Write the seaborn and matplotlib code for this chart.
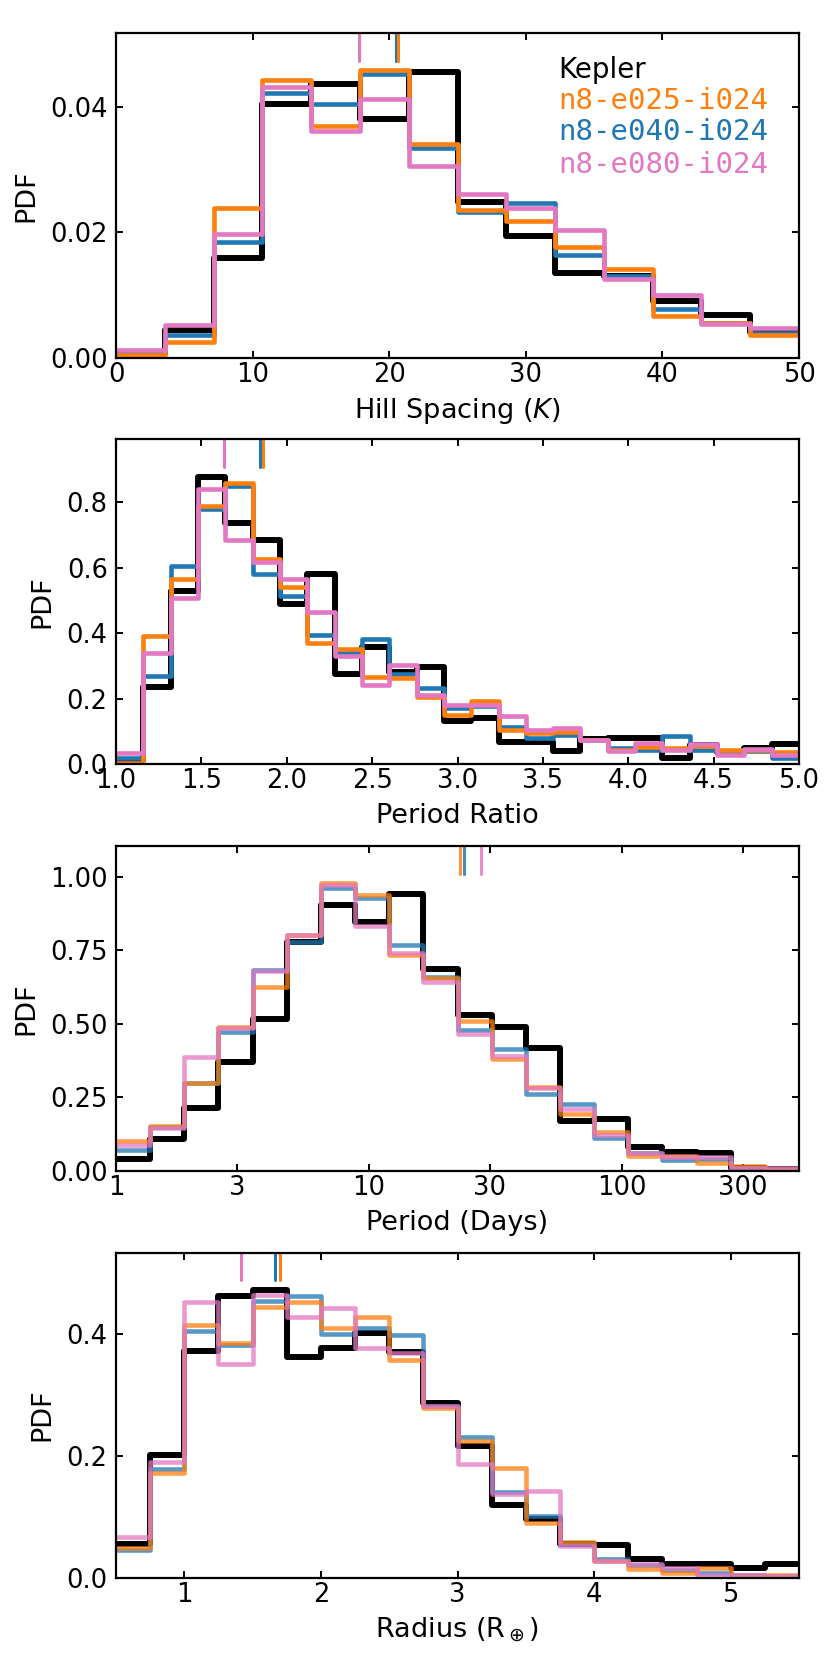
import numpy as np
import pandas as pd
import matplotlib
matplotlib.use("Agg")
import matplotlib.pyplot as plt
from matplotlib.ticker import FormatStrFormatter, NullLocator
import seaborn as sns

# ---- data (PDF per bin) ----
models = ["Kepler", "n8-e040-i024", "n8-e025-i024", "n8-e080-i024"]
model_colors = ["black", "#1f77b4", "#ff7f0e", "#e377c2"]
legend_order = ["Kepler", "n8-e025-i024", "n8-e040-i024", "n8-e080-i024"]

# Hill spacing, 14 bins on [0, 50]
hill_edges = np.linspace(0, 50, 15)
kepler_hill = [0.0008, 0.0044, 0.0159, 0.0404, 0.0436, 0.0381, 0.0455, 0.0249, 0.0194, 0.0135, 0.0131, 0.0091, 0.0068, 0.0042]
e025_hill = [0.0004, 0.0025, 0.0238, 0.0442, 0.0369, 0.0458, 0.0340, 0.0236, 0.0218, 0.0176, 0.0141, 0.0066, 0.0055, 0.0037]
e040_hill = [0.0008, 0.0037, 0.0185, 0.0422, 0.0405, 0.0452, 0.0335, 0.0233, 0.0247, 0.0164, 0.0130, 0.0078, 0.0055, 0.0040]
e080_hill = [0.0012, 0.0052, 0.0197, 0.0432, 0.0362, 0.0413, 0.0306, 0.0261, 0.0238, 0.0203, 0.0125, 0.0101, 0.0054, 0.0048]

# Period ratio, 25 bins on [1, 5]
pr_edges = np.linspace(1, 5, 26)
kepler_pr = [0.013, 0.236, 0.529, 0.878, 0.735, 0.684, 0.488, 0.582, 0.276, 0.358, 0.280, 0.297, 0.131,
             0.141, 0.069, 0.069, 0.039, 0.077, 0.080, 0.080, 0.020, 0.059, 0.036, 0.051, 0.061]
e025_pr = [0.004, 0.391, 0.564, 0.789, 0.858, 0.626, 0.541, 0.370, 0.352, 0.265, 0.263, 0.205, 0.151,
           0.192, 0.105, 0.095, 0.097, 0.075, 0.042, 0.052, 0.049, 0.055, 0.044, 0.042, 0.036]
e040_pr = [0.020, 0.268, 0.605, 0.779, 0.848, 0.582, 0.513, 0.394, 0.340, 0.381, 0.276, 0.233, 0.173,
           0.177, 0.115, 0.080, 0.090, 0.075, 0.049, 0.042, 0.085, 0.042, 0.036, 0.039, 0.020]
e080_pr = [0.034, 0.340, 0.508, 0.840, 0.685, 0.617, 0.564, 0.466, 0.330, 0.243, 0.304, 0.212, 0.182,
           0.182, 0.146, 0.105, 0.110, 0.074, 0.039, 0.064, 0.044, 0.061, 0.029, 0.046, 0.029]

# Period (days), 20 log bins on [1, 500]
per_log_edges = np.linspace(0, np.log10(500), 21)
kepler_per = [0.041, 0.108, 0.214, 0.369, 0.517, 0.780, 0.906, 0.846, 0.942, 0.687,
              0.531, 0.489, 0.418, 0.171, 0.176, 0.080, 0.066, 0.060, 0.009, 0.007]
e025_per = [0.101, 0.154, 0.300, 0.491, 0.624, 0.804, 0.978, 0.940, 0.736, 0.656,
            0.510, 0.380, 0.287, 0.193, 0.134, 0.051, 0.050, 0.026, 0.017, 0.006]
e040_per = [0.072, 0.150, 0.300, 0.474, 0.685, 0.778, 0.963, 0.929, 0.770, 0.660,
            0.480, 0.414, 0.262, 0.227, 0.111, 0.060, 0.038, 0.040, 0.010, 0.005]
e080_per = [0.090, 0.147, 0.387, 0.485, 0.680, 0.804, 0.971, 0.834, 0.741, 0.641,
            0.466, 0.392, 0.282, 0.211, 0.123, 0.060, 0.049, 0.047, 0.011, 0.009]

# Radius, 20 bins on [0.5, 5.5]
rad_edges = np.linspace(0.5, 5.5, 21)
kepler_rad = [0.055, 0.201, 0.373, 0.463, 0.473, 0.363, 0.378, 0.402, 0.371, 0.287,
              0.216, 0.120, 0.096, 0.056, 0.053, 0.030, 0.022, 0.022, 0.016, 0.023]
e025_rad = [0.048, 0.172, 0.415, 0.385, 0.445, 0.454, 0.410, 0.429, 0.358, 0.279,
            0.224, 0.180, 0.090, 0.059, 0.028, 0.014, 0.008, 0.015, 0.003, 0.005]
e040_rad = [0.045, 0.178, 0.405, 0.382, 0.455, 0.463, 0.400, 0.410, 0.399, 0.283,
            0.232, 0.140, 0.101, 0.056, 0.030, 0.020, 0.012, 0.008, 0.004, 0.003]
e080_rad = [0.067, 0.190, 0.453, 0.351, 0.465, 0.429, 0.443, 0.378, 0.369, 0.283,
            0.186, 0.137, 0.142, 0.052, 0.027, 0.022, 0.015, 0.005, 0.004, 0.003]

# medians of the simulated samples (short ticks at the top), order: e040, e025, e080
hill_medians = [20.5, 20.65, 17.77]
pr_medians = [1.845, 1.863, 1.633]
per_medians = [23.7, 22.8, 27.6]
rad_medians = [1.661, 1.703, 1.415]

# ---- style ----
sns.set_style("ticks")
plt.rcParams.update({
    "font.family": ["DejaVu Sans"],
    "text.color": "black",
    "axes.labelcolor": "black",
    "xtick.color": "black",
    "ytick.color": "black",
    "xtick.direction": "in",
    "ytick.direction": "in",
    "xtick.top": True,
    "ytick.right": True,
    "axes.linewidth": 1.6,
    "axes.edgecolor": "black",
})

fig = plt.figure(figsize=(8.3, 16.61), dpi=100)
left, width, height = 0.1398, 0.8229, 0.1957
bottoms = [0.7845, 0.5399, 0.2950, 0.0502]
axes = [fig.add_axes([left, b, width, height]) for b in bottoms]

panels = [
    dict(edges=hill_edges, series=[kepler_hill, e040_hill, e025_hill, e080_hill], med=hill_medians,
         xlim=(0, 50), xticks=[0, 10, 20, 30, 40, 50], xticklabels=None,
         yticks=[0, 0.02, 0.04], yfmt="%.2f", xlabel="Hill Spacing ($K$)", alpha=1.0, log=False),
    dict(edges=pr_edges, series=[kepler_pr, e040_pr, e025_pr, e080_pr], med=pr_medians,
         xlim=(1, 5), xticks=np.arange(1, 5.01, 0.5), xticklabels=None,
         yticks=[0, 0.2, 0.4, 0.6, 0.8], yfmt="%.1f", xlabel="Period Ratio", alpha=1.0, log=False),
    dict(edges=per_log_edges, series=[kepler_per, e040_per, e025_per, e080_per], med=per_medians,
         xlim=(1, 500), xticks=[1, 3, 10, 30, 100, 300], xticklabels=["1", "3", "10", "30", "100", "300"],
         yticks=[0, 0.25, 0.5, 0.75, 1.0], yfmt="%.2f", xlabel="Period (Days)", alpha=0.75, log=True),
    dict(edges=rad_edges, series=[kepler_rad, e040_rad, e025_rad, e080_rad], med=rad_medians,
         xlim=(0.5, 5.5), xticks=[1, 2, 3, 4, 5], xticklabels=None,
         yticks=[0, 0.2, 0.4], yfmt="%.1f", xlabel=r"Radius (R$_\oplus$)", alpha=0.75, log=False),
]

for ax, p in zip(axes, panels):
    edges = np.asarray(p["edges"])
    centers = 0.5 * (edges[:-1] + edges[1:])
    if p["log"]:
        centers = 10 ** centers
    for i, (vals, col) in enumerate(zip(p["series"], model_colors)):
        df = pd.DataFrame({"x": centers, "w": vals})
        sns.histplot(data=df, x="x", weights="w", bins=list(edges), element="step", fill=False,
                     stat="count", color=col, linewidth=4.3 if i == 0 else 3.3,
                     alpha=1.0 if i == 0 else p["alpha"], log_scale=p["log"], ax=ax)
    ymax = 1.13 * max(max(s) for s in p["series"])
    for m, col in zip(p["med"], model_colors[1:]):
        ax.axvline(m, ymin=0.915, ymax=1, color=col, lw=2.2, alpha=1.0 if not p["log"] else 0.85)
    ax.set_xlim(*p["xlim"])
    ax.set_ylim(0, ymax)
    ax.set_xticks(p["xticks"])
    if p["xticklabels"] is not None:
        ax.set_xticklabels(p["xticklabels"])
        ax.xaxis.set_minor_locator(NullLocator())
    ax.set_yticks(p["yticks"])
    ax.yaxis.set_major_formatter(FormatStrFormatter(p["yfmt"]))
    ax.tick_params(which="major", direction="in", length=5, width=1.4, labelsize=18.5,
                   colors="black", top=True, right=True)
    ax.tick_params(axis="y", pad=6)
    ax.tick_params(axis="x", pad=3)
    ax.set_xlabel(p["xlabel"], fontsize=19.5, labelpad=6, color="black")
    ax.set_ylabel("PDF", fontsize=19.5, labelpad=8, color="black")

# legend as coloured text in the first panel
leg_colors = ["black", "#ff7f0e", "#1f77b4", "#e377c2"]
for name, col, y in zip(legend_order, leg_colors, [0.861, 0.765, 0.669, 0.569]):
    family = "DejaVu Sans" if name == "Kepler" else "DejaVu Sans Mono"
    size = 20 if name == "Kepler" else 21
    axes[0].text(0.648, y, name, color=col, family=family, fontsize=size,
                 transform=axes[0].transAxes, va="baseline", ha="left")

fig.savefig("out.png", dpi=100)
plt.close(fig)
